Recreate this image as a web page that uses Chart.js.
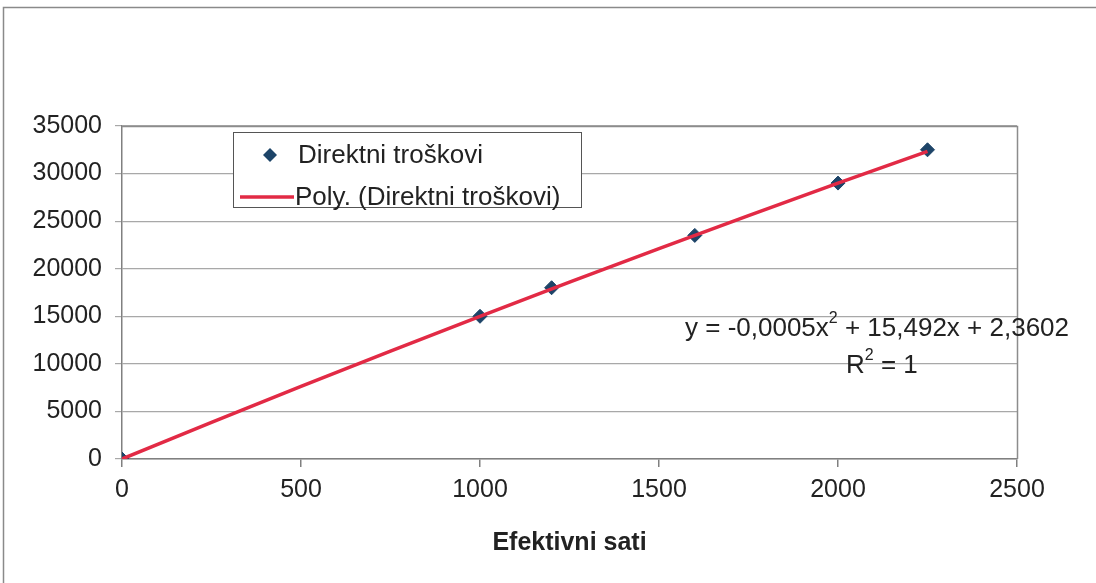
<!DOCTYPE html>
<html>
<head>
<meta charset="utf-8">
<script src="https://cdn.jsdelivr.net/npm/chart.js@4.4.1/dist/chart.umd.min.js"></script>
<style>
html,body{margin:0;padding:0;background:#fff;}
#wrap{width:1096px;height:583px;position:relative;}
</style>
</head>
<body>
<div id="wrap"><canvas id="c" width="1096" height="583"></canvas></div>
<script>
// Data
const hours = [0, 1000, 1200, 1600, 2000, 2250];
const costs = [0, 15000, 18000, 23500, 29000, 32500];
// Trendline samples
const trendHours = [0, 250, 500, 750, 1000, 1250, 1500, 1750, 2000, 2250];
const trendCosts = [2, 3844, 7623, 11340, 14994, 18586, 22115, 25582, 28986, 32328];
const xTicks = [0, 500, 1000, 1500, 2000, 2500];
const yTicks = [0, 5000, 10000, 15000, 20000, 25000, 30000, 35000];
const seriesName = 'Direktni troškovi';
const trendName = 'Poly. (Direktni troškovi)';
const xTitle = 'Efektivni sati';
const equationText = 'y = -0,0005x';
const equationRest = ' + 15,492x + 2,3602';
const r2Text = 'R';
const r2Rest = ' = 1';

const FONT = 'Arial, "Liberation Sans", sans-serif';
const markerColor = '#1d4468';
const lineColor = '#e22a45';

const decor = {
  id: 'decor',
  beforeDraw(chart) {
    const ctx = chart.ctx;
    ctx.save();
    ctx.fillStyle = '#ffffff';
    ctx.fillRect(0, 0, chart.width, chart.height);
    ctx.strokeStyle = '#8a8a8a';
    ctx.lineWidth = 1.5;
    ctx.beginPath();
    ctx.moveTo(3.5, 583); ctx.lineTo(3.5, 7.5); ctx.lineTo(1096, 7.5);
    ctx.stroke();
    ctx.restore();
  },
  afterDatasetsDraw(chart) {
    const ctx = chart.ctx;
    const a = chart.chartArea;
    ctx.save();
    // plot area border
    ctx.strokeStyle = '#8c8c8c';
    ctx.lineWidth = 1.5;
    ctx.beginPath();
    ctx.moveTo(a.left, a.top + 0.5); ctx.lineTo(a.right + 0.5, a.top + 0.5); ctx.lineTo(a.right + 0.5, a.bottom);
    ctx.stroke();

    // legend box
    const lx = 233, ly = 132, lw = 348, lh = 75;
    ctx.fillStyle = '#ffffff';
    ctx.fillRect(lx, ly, lw, lh);
    ctx.strokeStyle = '#555';
    ctx.lineWidth = 1;
    ctx.strokeRect(lx + 0.5, ly + 0.5, lw, lh);
    // marker
    ctx.fillStyle = markerColor;
    const mx = 270, my = 155, r = 7;
    ctx.beginPath();
    ctx.moveTo(mx, my - r); ctx.lineTo(mx + r, my); ctx.lineTo(mx, my + r); ctx.lineTo(mx - r, my); ctx.closePath();
    ctx.fill();
    // line
    ctx.strokeStyle = lineColor;
    ctx.lineWidth = 3.5;
    ctx.beginPath();
    ctx.moveTo(240, 197); ctx.lineTo(294, 197);
    ctx.stroke();
    ctx.fillStyle = '#222';
    ctx.font = '26px ' + FONT;
    ctx.textBaseline = 'middle';
    ctx.textAlign = 'left';
    ctx.fillText(seriesName, 298, 156);
    ctx.fillText(trendName, 295, 198);

    // equation
    const ex = 685, ey = 329;
    ctx.font = '26px ' + FONT;
    ctx.fillText(equationText, ex, ey);
    let w = ctx.measureText(equationText).width;
    ctx.font = '16px ' + FONT;
    ctx.fillText('2', ex + w, ey - 10);
    const w2 = ctx.measureText('2').width;
    ctx.font = '26px ' + FONT;
    ctx.fillText(equationRest, ex + w + w2, ey);

    const rx = 846, ry = 366;
    ctx.fillText(r2Text, rx, ry);
    w = ctx.measureText(r2Text).width;
    ctx.font = '16px ' + FONT;
    ctx.fillText('2', rx + w, ry - 10);
    ctx.font = '26px ' + FONT;
    ctx.fillText(r2Rest, rx + w + w2, ry);
    ctx.restore();
  }
};

new Chart(document.getElementById('c'), {
  type: 'scatter',
  data: {
    datasets: [
      {
        label: trendName,
        type: 'line',
        data: trendHours.map((x, i) => ({x: x, y: trendCosts[i]})),
        borderColor: lineColor,
        borderWidth: 3.5,
        pointRadius: 0,
        showLine: true,
        fill: false,
        tension: 0,
        order: 0
      },
      {
        label: seriesName,
        data: hours.map((x, i) => ({x: x, y: costs[i]})),
        backgroundColor: markerColor,
        borderColor: markerColor,
        pointStyle: 'rectRot',
        pointRadius: 7,
        order: 1
      }
    ]
  },
  options: {
    responsive: false,
    animation: false,
    devicePixelRatio: 1,
    layout: { padding: { left: 0, top: 126, right: 79, bottom: 23 } },
    plugins: { legend: { display: false }, tooltip: { enabled: false }, title: { display: false } },
    scales: {
      x: {
        type: 'linear',
        min: 0, max: 2500,
        afterBuildTicks: (s) => { s.ticks = xTicks.map(v => ({value: v})); },
        afterFit: (s) => { s.height = 101; },
        ticks: { color: '#222', font: { family: FONT, size: 25 }, padding: 8, maxRotation: 0, callback: (v) => String(v) },
        grid: { drawOnChartArea: false, drawTicks: true, tickLength: 8, color: '#808080', lineWidth: 1.5 },
        border: { color: '#808080', width: 1.5 },
        title: { display: true, text: xTitle, color: '#222', font: { family: FONT, size: 25, weight: 'bold' }, padding: { top: 0, bottom: 2 } }
      },
      y: {
        type: 'linear',
        min: 0, max: 35000,
        afterBuildTicks: (s) => { s.ticks = yTicks.map(v => ({value: v})); },
        afterFit: (s) => { s.width = 122; },
        ticks: { color: '#222', font: { family: FONT, size: 25 }, padding: 13, callback: (v) => String(v) },
        grid: { color: '#a8a8a8', lineWidth: 1.2, tickLength: 7, drawTicks: true },
        border: { color: '#808080', width: 1.5 }
      }
    }
  },
  plugins: [decor]
});
</script>
</body>
</html>
